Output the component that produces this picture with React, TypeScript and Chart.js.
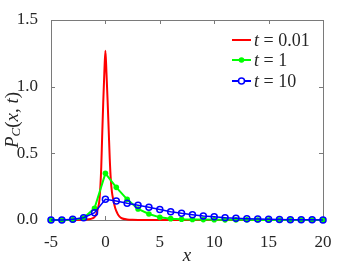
import React, { useEffect, useRef } from "react";
import { Chart, registerables } from "chart.js";
Chart.register(...registerables);

const xTicks = [-5, 0, 5, 10, 15, 20];
const yTicks = [0, 0.5, 1.0, 1.5];
const yTickLabels = ["0.0", "0.5", "1.0", "1.5"];

const redX = [-5, -3, -2, -1.5, -1.2, -1, -0.8, -0.65, -0.55, -0.45, -0.38, -0.3, -0.2, -0.1, 0, 0.1, 0.2, 0.3, 0.4, 0.5, 0.6, 0.73, 0.9, 1.1, 1.3, 1.5, 2, 2.5, 3, 5, 10, 20];
const redY = [0, 0, 0.001, 0.005, 0.012, 0.022, 0.05, 0.1, 0.15, 0.27, 0.4, 0.62, 0.88, 1.1, 1.27, 1.1, 0.9, 0.68, 0.46, 0.3, 0.21, 0.15, 0.09, 0.05, 0.025, 0.013, 0.004, 0.001, 0, 0, 0, 0];

const markerX = [-5, -4, -3, -2, -1, 0, 1, 2, 3, 4, 5, 6, 7, 8, 9, 10, 11, 12, 13, 14, 15, 16, 17, 18, 19, 20];
const greenY = [0, 0, 0.002, 0.015, 0.088, 0.35, 0.245, 0.155, 0.083, 0.045, 0.02, 0.01, 0.006, 0.004, 0.003, 0.002, 0.001, 0.001, 0.001, 0, 0, 0, 0, 0, 0, 0];
const blueY = [0, 0, 0.005, 0.017, 0.055, 0.155, 0.143, 0.125, 0.11, 0.095, 0.078, 0.062, 0.05, 0.04, 0.03, 0.025, 0.017, 0.013, 0.01, 0.007, 0.005, 0.003, 0.002, 0.001, 0.001, 0];

const legendLabels = ["0.01", "1", "10"];
const RED = "#ff0000";
const GREEN = "#00ff00";
const BLUE = "#0000ff";
const SERIF = "'Liberation Serif', 'DejaVu Serif', serif";

function drawMixed(ctx: CanvasRenderingContext2D, parts: { t: string; italic?: boolean; size: number; dy?: number }[], x: number, y: number) {
  let cx = x;
  for (const p of parts) {
    ctx.font = `${p.italic ? "italic " : ""}${p.size}px ${SERIF}`;
    ctx.fillText(p.t, cx, y + (p.dy || 0));
    cx += ctx.measureText(p.t).width;
  }
  return cx;
}

const decorPlugin = {
  id: "decor",
  beforeDatasetsDraw(chart: any) {
    const { ctx, chartArea: a, scales } = chart;
    ctx.save();
    ctx.strokeStyle = "#7a7a7a";
    ctx.lineWidth = 1;
    ctx.strokeRect(a.left + 0.5, a.top + 0.5, a.right - a.left, a.bottom - a.top);
    const tl = 4;
    ctx.beginPath();
    for (const v of xTicks) {
      const px = Math.round(scales.x.getPixelForValue(v)) + 0.5;
      ctx.moveTo(px, a.bottom);
      ctx.lineTo(px, a.bottom - tl);
      ctx.moveTo(px, a.top);
      ctx.lineTo(px, a.top + tl);
    }
    for (const v of yTicks) {
      const py = Math.round(scales.y.getPixelForValue(v)) + 0.5;
      ctx.moveTo(a.left, py);
      ctx.lineTo(a.left + tl, py);
      ctx.moveTo(a.right, py);
      ctx.lineTo(a.right - tl, py);
    }
    ctx.stroke();
    ctx.restore();
  },
  afterDraw(chart: any) {
    const { ctx, chartArea: a } = chart;
    ctx.save();
    ctx.fillStyle = "#262626";
    ctx.textBaseline = "middle";
    // x label
    ctx.textAlign = "center";
    ctx.font = `italic 19px ${SERIF}`;
    ctx.fillText("x", (a.left + a.right) / 2, 256);
    // y label
    ctx.save();
    ctx.translate(13, (a.top + a.bottom) / 2);
    ctx.rotate(-Math.PI / 2);
    ctx.textAlign = "left";
    const parts = [
      { t: "P", italic: true, size: 19 },
      { t: "C", italic: true, size: 13, dy: 4 },
      { t: "(", size: 19 },
      { t: "x", italic: true, size: 19 },
      { t: ", ", size: 19 },
      { t: "t", italic: true, size: 19 },
      { t: ")", size: 19 },
    ];
    let w = 0;
    for (const p of parts) {
      ctx.font = `${p.italic ? "italic " : ""}${p.size}px ${SERIF}`;
      w += ctx.measureText(p.t).width;
    }
    drawMixed(ctx, parts, -w / 2, 0);
    ctx.restore();
    // legend
    const colors = [RED, GREEN, BLUE];
    const rows = [40, 60, 81];
    for (let i = 0; i < 3; i++) {
      const y = rows[i];
      ctx.strokeStyle = colors[i];
      ctx.lineWidth = 2;
      ctx.beginPath();
      ctx.moveTo(232, y);
      ctx.lineTo(251, y);
      ctx.stroke();
      if (i === 1) {
        ctx.fillStyle = GREEN;
        ctx.beginPath();
        ctx.arc(241.5, y, 2.8, 0, Math.PI * 2);
        ctx.fill();
      } else if (i === 2) {
        ctx.strokeStyle = BLUE;
        ctx.lineWidth = 1.5;
        ctx.fillStyle = "#ffffff";
        ctx.beginPath();
        ctx.arc(241.5, y, 3, 0, Math.PI * 2);
        ctx.fill();
        ctx.stroke();
      }
      ctx.fillStyle = "#262626";
      ctx.textAlign = "left";
      drawMixed(ctx, [
        { t: "t", italic: true, size: 18 },
        { t: " = " + legendLabels[i], size: 18 },
      ], 254, y + 1);
    }
    ctx.restore();
  },
};

export default function App() {
  const ref = useRef<HTMLCanvasElement>(null);
  useEffect(() => {
    document.body.style.margin = "0";
    const canvas = ref.current!;
    const chart = new Chart(canvas, {
      type: "line",
      data: {
        datasets: [
          {
            label: "t = 0.01",
            data: redX.map((x, i) => ({ x, y: redY[i] })),
            borderColor: RED,
            borderWidth: 2,
            pointRadius: 0,
            cubicInterpolationMode: "monotone",
            order: 3,
            clip: false,
          },
          {
            label: "t = 1",
            data: markerX.map((x, i) => ({ x, y: greenY[i] })),
            borderColor: GREEN,
            backgroundColor: GREEN,
            borderWidth: 2,
            pointRadius: 2.8,
            pointBorderWidth: 0,
            pointBackgroundColor: GREEN,
            order: 2,
            clip: false,
          },
          {
            label: "t = 10",
            data: markerX.map((x, i) => ({ x, y: blueY[i] })),
            borderColor: BLUE,
            borderWidth: 1.5,
            pointRadius: 3,
            pointBorderWidth: 1.5,
            pointBorderColor: BLUE,
            pointBackgroundColor: "rgba(255,255,255,0)",
            order: 1,
            clip: false,
          },
        ] as any,
      },
      options: {
        animation: false,
        responsive: false,
        events: [],
        layout: { padding: { top: 20, right: 34, left: 0, bottom: 0 } },
        plugins: { legend: { display: false }, tooltip: { enabled: false } },
        scales: {
          x: {
            type: "linear",
            min: -5,
            max: 20,
            grid: { display: false },
            border: { display: false },
            afterBuildTicks: (s: any) => { s.ticks = xTicks.map((v) => ({ value: v })); },
            afterFit: (s: any) => { s.height = 48; },
            ticks: {
              color: "#262626",
              font: { family: SERIF, size: 17 },
              padding: 4,
              maxRotation: 0,
              callback: (v: any) => String(v),
            },
          },
          y: {
            type: "linear",
            min: 0,
            max: 1.5,
            grid: { display: false },
            border: { display: false },
            afterBuildTicks: (s: any) => { s.ticks = yTicks.map((v) => ({ value: v })); },
            afterFit: (s: any) => { s.width = 51; },
            ticks: {
              color: "#262626",
              font: { family: SERIF, size: 17 },
              padding: 5,
              callback: (v: any) => yTickLabels[yTicks.indexOf(Number(v))] ?? String(v),
            },
          },
        },
      } as any,
      plugins: [decorPlugin],
    });
    return () => chart.destroy();
  }, []);
  return (
    <div style={{ width: 357, height: 268 }}>
      <canvas ref={ref} width={357} height={268} style={{ display: "block" }} />
    </div>
  );
}
